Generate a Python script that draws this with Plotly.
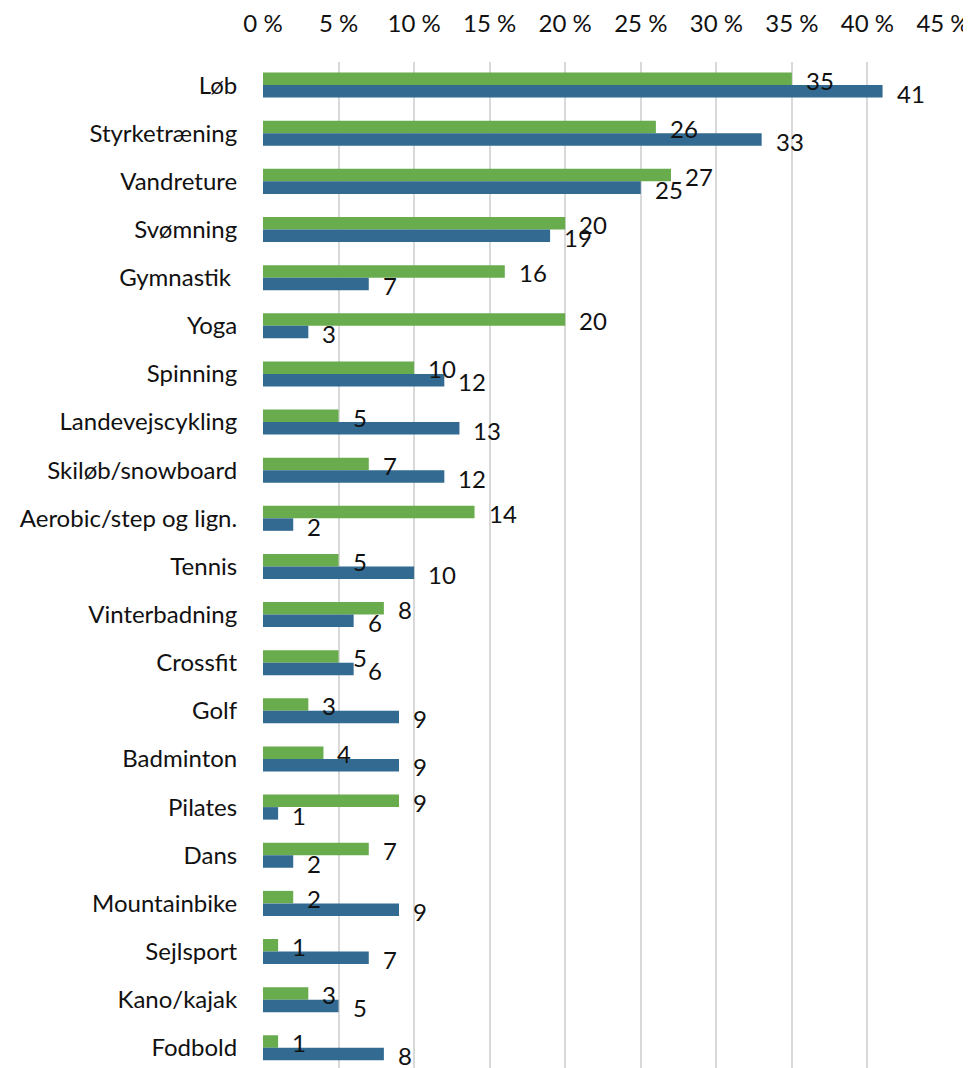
import plotly.graph_objects as go

categories = [
    "Løb", "Styrketræning", "Vandreture", "Svømning", "Gymnastik\u00a0", "Yoga",
    "Spinning", "Landevejscykling", "Skiløb/snowboard", "Aerobic/step og lign.",
    "Tennis", "Vinterbadning", "Crossfit", "Golf", "Badminton", "Pilates",
    "Dans", "Mountainbike", "Sejlsport", "Kano/kajak", "Fodbold",
]
green_values = [35, 26, 27, 20, 16, 20, 10, 5, 7, 14, 5, 8, 5, 3, 4, 9, 7, 2, 1, 3, 1]
blue_values = [41, 33, 25, 19, 7, 3, 12, 13, 12, 2, 10, 6, 6, 9, 9, 1, 2, 9, 7, 5, 8]

GREEN = "#68AC4E"
BLUE = "#336A91"
FONT = "Lato"
FONT_SIZE = 24
TEXT_COLOR = "#111111"

fig = go.Figure()
fig.add_trace(go.Bar(y=categories, x=green_values, orientation="h",
                     marker=dict(color=GREEN, line=dict(width=0)), name="green"))
fig.add_trace(go.Bar(y=categories, x=blue_values, orientation="h",
                     marker=dict(color=BLUE, line=dict(width=0)), name="blue"))

# value labels just past the bar ends
for cat, g, b in zip(categories, green_values, blue_values):
    fig.add_annotation(x=g, y=cat, text=str(g), showarrow=False, xanchor="left",
                       xshift=12, yshift=5,
                       font=dict(size=FONT_SIZE, color=TEXT_COLOR, family=FONT))
    fig.add_annotation(x=b, y=cat, text=str(b), showarrow=False, xanchor="left",
                       xshift=12, yshift=-8,
                       font=dict(size=FONT_SIZE, color=TEXT_COLOR, family=FONT))

# page body has an 8px margin, so the figure is 8px smaller than the window
fig.update_layout(
    width=963,
    height=1060,
    margin=dict(l=255, r=28, t=54, b=0, pad=0),
    paper_bgcolor="white",
    plot_bgcolor="white",
    barmode="group",
    bargap=0.48,
    bargroupgap=0,
    showlegend=False,
    font=dict(family=FONT, size=FONT_SIZE, color=TEXT_COLOR),
    xaxis=dict(
        side="top",
        range=[0, 45],
        dtick=5,
        tick0=0,
        ticksuffix=" %",
        showgrid=True,
        gridcolor="#D9D9D9",
        gridwidth=2,
        zeroline=False,
        showline=False,
        ticks="outside",
        ticklen=19,
        tickcolor="rgba(0,0,0,0)",
        tickfont=dict(size=FONT_SIZE, family=FONT, color=TEXT_COLOR),
        fixedrange=True,
    ),
    yaxis=dict(
        range=[20.42, -0.48],
        showgrid=False,
        zeroline=False,
        showline=False,
        ticks="outside",
        ticklen=20,
        tickcolor="rgba(0,0,0,0)",
        tickfont=dict(size=FONT_SIZE, family=FONT, color=TEXT_COLOR),
        fixedrange=True,
    ),
)

fig.write_html("out.html")
